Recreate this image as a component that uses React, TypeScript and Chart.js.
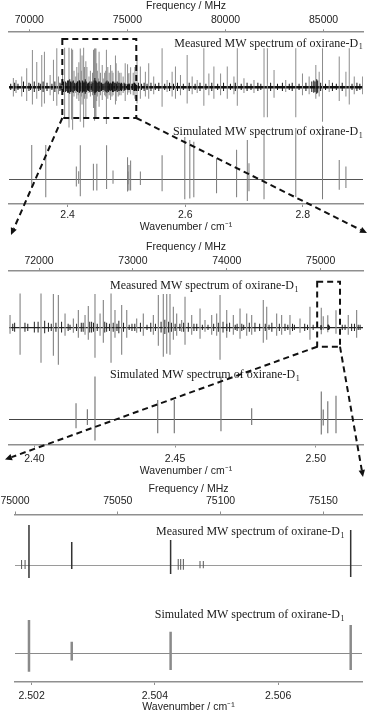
import React, { useEffect, useRef } from "react";
import { Chart, registerables } from "chart.js";

Chart.register(...registerables);
Chart.defaults.font.family = '"Liberation Sans", Arial, Helvetica, sans-serif';
Chart.defaults.color = "#222";

const MHZ_PER_WAVENUMBER = 29979.2458;

// ---------- data ----------
// Measured lines: frequency (MHz), upward and downward excursion (rel. intensity)
const measuredFreq = [
  69184, 69320, 69610, 69865, 70155, 70377, 70632, 70768, 71058, 71228, 71399, 71484,
  71691, 71798, 72021, 72153, 72206, 72277, 72366, 72419, 72490, 72525,
  72596, 72650, 72685, 72767, 72809, 72880, 72934, 73040, 73111, 73218,
  73271, 73324, 73360, 73395, 73431, 73466, 73519, 73555, 73626, 73715,
  73768, 73839, 73892, 73928, 73999, 74070, 74141, 74212, 74265, 74389,
  74425, 74531, 74584, 74673, 74780, 74886, 75006.8, 75027.6, 75075.7, 75163.3, 75294, 75383,
  75489, 75659, 75915, 76085, 76340, 76767, 77022, 77278, 77448, 77704,
  78045, 78300, 78556, 78896, 79152, 79408, 79749, 80090, 80430, 80601,
  80941, 81452, 81964, 82134, 82475, 83071, 83583, 83924, 84264, 84605,
  84775, 84946, 85286, 85798, 86139, 86309, 86564, 86991,
];
const measuredUp = [
  8, 6.4, 9.3, 16.5, 32.5, 22, 28, 31, 10.7, 24, 34, 9.3,
  12.7, 34.3, 34.3, 33.7, 32.7, 14.3, 9.3, 17.7, 12.7, 21.7,
  33.7, 14.3, 27.7, 34.3, 17.7, 22.7, 17.7, 9.3, 14.3, 12.7,
  32.7, 33.7, 33.7, 33.7, 21, 14.3, 7.7, 31, 12.7, 19.3,
  7.7, 12.7, 14.3, 32.7, 17.7, 12.7, 19.3, 14.3, 12.7, 27.7,
  21, 14.3, 12.7, 12.7, 9.3, 21, 20, 11.5, 12.5, 17.5, 12.7, 17.7,
  28, 18, 13.6, 21, 9.3, 34, 6.4, 13.6, 18, 10.7,
  28, 9.3, 6.4, 34, 12, 18, 12, 18, 9.3, 34,
  7.8, 6.4, 34, 34, 15, 6.4, 34, 12, 9.3, 19.4,
  13.6, 34, 6.4, 26.7, 13.6, 34, 9.3, 9.3,
];
const measuredDown = [
  8, 5, 8, 12, 15, 10, 17, 14, 7, 12, 16, 6,
  6, 27, 35, 28, 37, 8, 5, 10, 7, 12,
  30, 8, 15, 35, 10, 27, 10, 5, 8, 7,
  18, 29, 26, 27, 12, 8, 4, 17, 7, 11,
  4, 7, 8, 32, 10, 7, 11, 8, 7, 15,
  12, 8, 7, 7, 5, 12, 6.5, 2, 4.5, 6, 7, 10,
  14, 10, 8, 10, 6, 17, 4, 8, 10, 7,
  14, 6, 5, 16, 7, 10, 7, 10, 6, 16,
  5, 5, 26, 26, 9, 4, 26, 7, 6, 10,
  8, 30, 4, 12, 8, 15, 6, 6,
];

// Small features / noise of the measured trace: frequency (MHz), amplitude
const noiseFreq = [
  69050, 69250, 69420, 69700, 69980, 70060, 70250, 70480, 70560, 70700,
  70900, 71150, 71300, 71560, 71620, 71740, 71880, 71950, 72060, 72100,
  72240, 72310, 72450, 72560, 72620, 72720, 72850, 72990, 73080, 73150,
  73300, 73340, 73500, 73590, 73680, 73800, 73960, 74030, 74110, 74180,
  74300, 74350, 74480, 74620, 74720, 74830, 74920, 75003.2, 75004.9, 75079.4,
  75080.6, 75081.9, 75090, 75091.6, 75230, 75330, 75420, 75560, 75720, 75850,
  76000, 76200, 76420, 76600, 76900, 77150, 77350, 77550, 77850, 78150,
  78450, 78700, 79000, 79300, 79600, 79900, 80250, 80500, 80800, 81100,
  81300, 81650, 81800, 82300, 82650, 82900, 83250, 83400, 83750, 84100,
  84400, 84500, 84560, 84650, 84700, 84850, 85100, 85450, 85650, 85950,
  86450, 86700, 86850,
  71720, 71850, 71990, 72130, 72180, 72330, 72400, 72470, 72540, 72580,
  72700, 72750, 72790, 72830, 72900, 72960, 73020, 73190, 73240, 73380,
  73410, 73450, 73540, 73650, 73740, 73860, 73910, 74000, 74090, 74160,
  74240, 74410, 74450, 74560, 74650, 74700, 74860, 75260, 75360, 75400,
];
const noiseAmp = [
  3, 4, 3, 5, 4, 3, 5, 4, 3, 5,
  4, 3, 5, 4, 3, 5, 4, 6, 7, 5,
  6, 4, 5, 6, 4, 5, 7, 4, 5, 3,
  6, 8, 4, 5, 4, 3, 6, 5, 4, 3,
  5, 4, 5, 4, 3, 4, 3, 2.5, 2.5, 3,
  3, 3, 2, 2, 3, 4, 3, 4, 3, 4,
  3, 4, 3, 4, 3, 4, 3, 4, 3, 4,
  3, 4, 3, 4, 3, 4, 3, 4, 3, 4,
  3, 4, 3, 4, 3, 4, 3, 4, 3, 4,
  5, 6, 5, 7, 6, 4, 3, 4, 3, 4,
  3, 4, 3,
  4, 5, 6, 4, 5, 3, 4, 5, 6, 5,
  6, 4, 5, 4, 5, 3, 4, 5, 4, 6,
  5, 4, 5, 4, 3, 4, 5, 4, 3, 4,
  5, 4, 3, 4, 3, 4, 3, 3, 4, 3,
];

// Simulated lines: frequency (MHz), upward and downward excursion
const simFreq = [
  70121, 70837, 72394, 72515, 72596, 73264, 73441, 73938, 74265,
  75006.8, 75027.6, 75075.7, 75163.3, 75659, 76767, 77925, 78181, 78385,
  79544, 80566, 81112, 81197, 81964, 83583, 84946, 85798, 86139,
];
const simUp = [
  43, 43, 16, 10, 42.7, 19.3, 19.3, 42.7, 11,
  27.7, 9.7, 18, 23.6, 9.6, 30, 53, 49, 47,
  26, 37, 49, 20, 62, 64, 67, 24, 16,
];
const simDown = [
  11, 22.5, 9, 5.7, 21.3, 14, 14, 12, 5.7,
  15.3, 6.1, 14, 14, 7, 15, 25, 24, 22.5,
  17.5, 22.5, 27, 15, 25, 22, 25, 13, 11,
];

// Axis ranges and tick values of the three panels
const freqMin = [68962, 71680, 75000];
const freqMax = [87010, 75451, 75168.8];
const freqTicks = [
  [70000, 75000, 80000, 85000],
  [72000, 73000, 74000, 75000],
  [75000, 75050, 75100, 75150],
];
const wnTicks = [
  [2.4, 2.6, 2.8],
  [2.4, 2.45, 2.5],
  [2.502, 2.504, 2.506],
];
const wnDecimals = [1, 2, 3];
// zoom box (intensity range on the measured axis)
const zoomBoxLow = [-26.7, -19];
const zoomBoxHigh = [42, 46];

const freqTitle = "Frequency / MHz";
const wnTitle = "Wavenumber / cm\u207B\u00B9";
const measuredLabel = "Measured MW spectrum of oxirane-D";
const simulatedLabel = "Simulated MW spectrum of oxirane-D";
const labelSubscript = "1";

// ---------- layout / style (page pixels) ----------
const W = 372;
const AXIS_FONT = 10.5;
const LH = AXIS_FONT * 1.2;
const TL = 3;
const AXIS_COLOR = "#8f8f8f";

type Panel = any;
const PANELS: Panel[] = [
  {
    top: 0, height: 235, left: 9, right: 363, axisTop: 32.3, axisBottom: 204,
    fTitleY: 6.5, fLabelY: 20, wLabelY: 215.5, wTitleY: 227.5,
    mBase: 87.3, mPx: 1.15, sBase: 179.3, sPx: 0.8,
    mText: { x: 362.7, y: 46.5, align: "right" }, sText: { x: 362.7, y: 135, align: "right" },
    mColor: "#8c8c8c", mWidth: 1, nColor: "#111", sColor: "#7a7a7a", sWidth: 1,
    mBaseColor: "#111", mBaseWidth: 2.5, sBaseColor: "#555", sBaseWidth: 1,
  },
  {
    top: 235, height: 243, left: 9, right: 363, axisTop: 271, axisBottom: 444.5,
    fTitleY: 247.5, fLabelY: 261.5, wLabelY: 459.5, wTitleY: 471,
    mBase: 327.7, mPx: 1, sBase: 419.3, sPx: 1,
    mText: { x: 110, y: 289, align: "left" }, sText: { x: 110, y: 378.3, align: "left" },
    mColor: "#8c8c8c", mWidth: 1.2, nColor: "#222", sColor: "#7a7a7a", sWidth: 1.2,
    mBaseColor: "#222", mBaseWidth: 1.2, sBaseColor: "#444", sBaseWidth: 1,
  },
  {
    top: 478, height: 237, left: 15, right: 362, axisTop: 514.5, axisBottom: 682,
    fTitleY: 489.5, fLabelY: 501.5, wLabelY: 696, wTitleY: 707.5,
    mBase: 565, mPx: 2, sBase: 653.3, sPx: 1.2,
    mText: { x: 344.5, y: 535, align: "right" }, sText: { x: 344.5, y: 618.3, align: "right" },
    mColor: "#333", mWidth: 1.5, nColor: "#555", sColor: "#8a8a8a", sWidth: 2.5,
    mBaseColor: "#9a9a9a", mBaseWidth: 1, sBaseColor: "#8a8a8a", sBaseWidth: 1,
  },
];

function textPlugin(p: Panel) {
  return {
    id: "panelText",
    afterDraw(chart: any) {
      const ctx = chart.ctx;
      const items = [
        { ...p.mText, text: measuredLabel },
        { ...p.sText, text: simulatedLabel },
      ];
      for (const t of items) {
        ctx.save();
        ctx.fillStyle = "#1a1a1a";
        ctx.textAlign = "left";
        ctx.textBaseline = "alphabetic";
        const main = '12px "Liberation Serif", "Times New Roman", serif';
        const sub = '8px "Liberation Serif", "Times New Roman", serif';
        ctx.font = main;
        const w1 = ctx.measureText(t.text).width;
        ctx.font = sub;
        const w2 = ctx.measureText(labelSubscript).width;
        const x0 = t.align === "right" ? t.x - w1 - w2 - 0.5 : t.x;
        const y = t.y - p.top;
        ctx.font = main;
        ctx.fillText(t.text, x0, y);
        ctx.font = sub;
        ctx.fillText(labelSubscript, x0 + w1 + 0.5, y + 2.5);
        ctx.restore();
      }
    },
  };
}

function buildConfig(i: number): any {
  const p = PANELS[i];
  const topH = p.axisTop - p.top;
  const botH = p.top + p.height - p.axisBottom;
  const band = (base: number, px: number) => ({
    min: -(p.axisBottom - base) / px,
    max: (base - p.axisTop) / px,
  });
  const mBand = band(p.mBase, p.mPx);
  const sBand = band(p.sBase, p.sPx);

  const barCommon = { grouped: false, borderWidth: 0, inflateAmount: 0, xAxisID: "freq" };

  const xCommon = (pos: "top" | "bottom", h: number, tickValues: number[]) => ({
    type: "linear",
    position: pos,
    offset: false,
    grid: { drawOnChartArea: false, drawTicks: true, tickLength: TL, color: AXIS_COLOR, lineWidth: 1, offset: false },
    border: { display: true, color: AXIS_COLOR, width: 1.6 },
    afterBuildTicks: (s: any) => {
      s.ticks = tickValues.map((v) => ({ value: v }));
    },
    afterFit: (s: any) => {
      s.height = h;
      s.paddingLeft = 0;
      s.paddingRight = 0;
    },
  });

  const yCommon = (min: number, max: number, color: string, width: number) => ({
    type: "linear",
    position: "left",
    min,
    max,
    display: true,
    ticks: { display: false, stepSize: 10, includeBounds: false },
    border: { display: false },
    grid: {
      drawTicks: false,
      color: (c: any) => (c.tick && c.tick.value === 0 ? color : "rgba(0,0,0,0)"),
      lineWidth: (c: any) => (c.tick && c.tick.value === 0 ? width : 0),
    },
  });

  return {
    type: "bar",
    data: {
      datasets: [
        {
          ...barCommon,
          label: "noise",
          yAxisID: "yM",
          data: noiseFreq.map((f, k) => ({ x: f, y: [-noiseAmp[k] * 0.8, noiseAmp[k]] })),
          backgroundColor: p.nColor,
          barThickness: 1,
        },
        {
          ...barCommon,
          label: "measured",
          yAxisID: "yM",
          data: measuredFreq.map((f, k) => ({ x: f, y: [-measuredDown[k], measuredUp[k]] })),
          backgroundColor: p.mColor,
          barThickness: p.mWidth,
        },
        {
          ...barCommon,
          label: "simulated",
          yAxisID: "yS",
          data: simFreq.map((f, k) => ({ x: f, y: [-simDown[k], simUp[k]] })),
          backgroundColor: p.sColor,
          barThickness: p.sWidth,
        },
      ],
    },
    options: {
      responsive: false,
      maintainAspectRatio: false,
      devicePixelRatio: 1,
      animation: false,
      events: [],
      layout: { padding: { left: p.left, right: W - p.right, top: 0, bottom: 0 }, autoPadding: false },
      plugins: { legend: { display: false }, tooltip: { enabled: false } },
      scales: {
        freq: {
          ...xCommon("top", topH, freqTicks[i]),
          min: freqMin[i],
          max: freqMax[i],
          ticks: {
            autoSkip: false,
            maxRotation: 0,
            color: "#222",
            font: { size: AXIS_FONT },
            padding: p.axisTop - p.fLabelY - LH / 2 - TL,
            callback: (v: any) => String(Math.round(Number(v))),
          },
          title: {
            display: true,
            text: freqTitle,
            color: "#222",
            font: { size: AXIS_FONT },
            padding: { top: p.fTitleY - p.top - LH / 2, bottom: 0 },
          },
        },
        wn: {
          ...xCommon("bottom", botH, wnTicks[i]),
          min: freqMin[i] / MHZ_PER_WAVENUMBER,
          max: freqMax[i] / MHZ_PER_WAVENUMBER,
          ticks: {
            autoSkip: false,
            maxRotation: 0,
            color: "#222",
            font: { size: AXIS_FONT },
            padding: p.wLabelY - p.axisBottom - LH / 2 - TL,
            callback: (v: any) => Number(v).toFixed(wnDecimals[i]),
          },
          title: {
            display: true,
            text: wnTitle,
            color: "#222",
            font: { size: AXIS_FONT },
            padding: { top: 0, bottom: p.top + p.height - p.wTitleY - LH / 2 },
          },
        },
        yM: yCommon(mBand.min, mBand.max, p.mBaseColor, p.mBaseWidth),
        yS: yCommon(sBand.min, sBand.max, p.sBaseColor, p.sBaseWidth),
      },
    },
    plugins: [textPlugin(p)],
  };
}

function arrow(ctx: CanvasRenderingContext2D, x0: number, y0: number, x1: number, y1: number) {
  const a = Math.atan2(y1 - y0, x1 - x0);
  const head = 7;
  const half = 3.2;
  const bx = x1 - head * Math.cos(a);
  const by = y1 - head * Math.sin(a);
  ctx.setLineDash([6, 4]);
  ctx.beginPath();
  ctx.moveTo(x0, y0);
  ctx.lineTo(bx, by);
  ctx.stroke();
  ctx.setLineDash([]);
  ctx.beginPath();
  ctx.moveTo(x1, y1);
  ctx.lineTo(bx + half * Math.sin(a), by - half * Math.cos(a));
  ctx.lineTo(bx - half * Math.sin(a), by + half * Math.cos(a));
  ctx.closePath();
  ctx.fill();
}

function drawOverlay(canvas: HTMLCanvasElement, charts: any[]) {
  const ctx = canvas.getContext("2d")!;
  ctx.clearRect(0, 0, canvas.width, canvas.height);
  ctx.strokeStyle = "#111";
  ctx.fillStyle = "#111";
  ctx.lineWidth = 2;
  const pads = [0, 3.5];
  const boxes = [0, 1].map((k) => {
    const c = charts[k];
    const p = PANELS[k];
    const xa = c.scales.freq.getPixelForValue(freqMin[k + 1]) - pads[k];
    const xb = c.scales.freq.getPixelForValue(freqMax[k + 1]) + pads[k];
    const ya = p.top + c.scales.yM.getPixelForValue(zoomBoxHigh[k]);
    const yb = p.top + c.scales.yM.getPixelForValue(zoomBoxLow[k]);
    ctx.setLineDash([6, 4]);
    ctx.strokeRect(xa, ya, xb - xa, yb - ya);
    return { xa, xb, ya, yb };
  });
  const a2 = charts[1].chartArea;
  const a3 = charts[2].chartArea;
  // panel 1 -> panel 2
  arrow(ctx, boxes[0].xa, boxes[0].yb, a2.left + 2, PANELS[1].top);
  arrow(ctx, boxes[0].xb, boxes[0].yb, a2.right + 4, PANELS[1].top - 2);
  // panel 2 -> panel 3
  arrow(ctx, boxes[1].xa, boxes[1].yb, a2.left - 4, PANELS[1].wLabelY);
  arrow(ctx, boxes[1].xb, boxes[1].yb, a3.right + 1, PANELS[2].top - 1);
}

export default function App() {
  const r0 = useRef<HTMLCanvasElement>(null);
  const r1 = useRef<HTMLCanvasElement>(null);
  const r2 = useRef<HTMLCanvasElement>(null);
  const overlay = useRef<HTMLCanvasElement>(null);
  const refs = [r0, r1, r2];

  useEffect(() => {
    const charts = refs.map((r, i) => new Chart(r.current as HTMLCanvasElement, buildConfig(i)));
    if (overlay.current) drawOverlay(overlay.current, charts);
    return () => charts.forEach((c) => c.destroy());
  }, []);

  return (
    <div style={{ position: "absolute", left: 0, top: 0, width: W, height: 715, background: "#fff" }}>
      {PANELS.map((p, i) => (
        <canvas
          key={i}
          ref={refs[i]}
          width={W}
          height={p.height}
          style={{ position: "absolute", left: 0, top: p.top, width: W, height: p.height }}
        />
      ))}
      <canvas
        ref={overlay}
        width={W}
        height={715}
        style={{ position: "absolute", left: 0, top: 0, width: W, height: 715, pointerEvents: "none" }}
      />
    </div>
  );
}
